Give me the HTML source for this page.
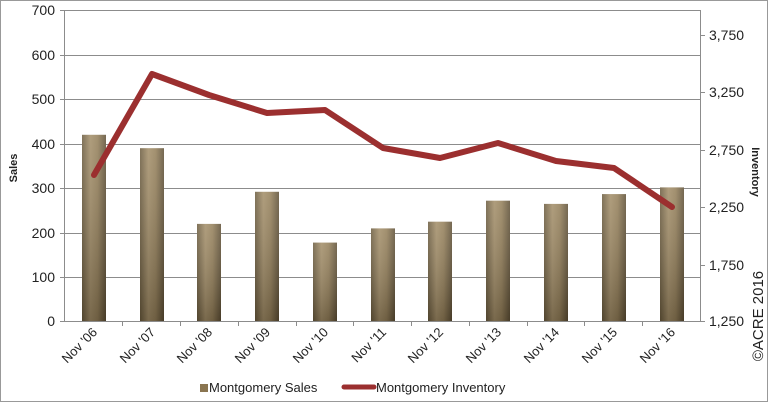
<!DOCTYPE html>
<html><head><meta charset="utf-8"><style>
html,body{margin:0;padding:0;background:#fff}
svg{display:block}
text{font-family:"Liberation Sans",sans-serif;fill:#222}
</style></head><body>
<svg width="768" height="402" viewBox="0 0 768 402" xmlns="http://www.w3.org/2000/svg">
<defs>
<linearGradient id="bh" x1="0" x2="1" y1="0" y2="0">
<stop offset="0" stop-color="#6a5a3d"/><stop offset="0.35" stop-color="#a18c66"/><stop offset="0.65" stop-color="#927d57"/><stop offset="1" stop-color="#5d4e34"/>
</linearGradient>
<linearGradient id="bv" x1="0" x2="0" y1="0" y2="1">
<stop offset="0" stop-color="#fff" stop-opacity="0.15"/><stop offset="1" stop-color="#000" stop-opacity="0.25"/>
</linearGradient>
</defs>
<rect x="0.5" y="0.5" width="767" height="401" fill="#fff" stroke="#999"/>
<g stroke="#8c8c8c" stroke-width="1">
<line x1="64" y1="10.5" x2="701" y2="10.5"/>
<line x1="64" y1="55.5" x2="701" y2="55.5"/>
<line x1="64" y1="99.5" x2="701" y2="99.5"/>
<line x1="64" y1="144.5" x2="701" y2="144.5"/>
<line x1="64" y1="188.5" x2="701" y2="188.5"/>
<line x1="64" y1="233.5" x2="701" y2="233.5"/>
<line x1="64" y1="277.5" x2="701" y2="277.5"/>
<line x1="64.5" y1="10" x2="64.5" y2="322"/>
<line x1="700.5" y1="10" x2="700.5" y2="322"/>
<line x1="60" y1="321.5" x2="701" y2="321.5"/>
<line x1="60" y1="10.5" x2="64" y2="10.5"/><line x1="60" y1="55.5" x2="64" y2="55.5"/><line x1="60" y1="99.5" x2="64" y2="99.5"/><line x1="60" y1="144.5" x2="64" y2="144.5"/><line x1="60" y1="188.5" x2="64" y2="188.5"/><line x1="60" y1="233.5" x2="64" y2="233.5"/><line x1="60" y1="277.5" x2="64" y2="277.5"/>
<line x1="700" y1="35.5" x2="705" y2="35.5"/><line x1="700" y1="92.5" x2="705" y2="92.5"/><line x1="700" y1="150.5" x2="705" y2="150.5"/><line x1="700" y1="207.5" x2="705" y2="207.5"/><line x1="700" y1="265.5" x2="705" y2="265.5"/><line x1="700" y1="321.5" x2="705" y2="321.5"/>
<line x1="122.5" y1="321" x2="122.5" y2="326"/><line x1="180.5" y1="321" x2="180.5" y2="326"/><line x1="238.5" y1="321" x2="238.5" y2="326"/><line x1="296.5" y1="321" x2="296.5" y2="326"/><line x1="353.5" y1="321" x2="353.5" y2="326"/><line x1="411.5" y1="321" x2="411.5" y2="326"/><line x1="469.5" y1="321" x2="469.5" y2="326"/><line x1="527.5" y1="321" x2="527.5" y2="326"/><line x1="584.5" y1="321" x2="584.5" y2="326"/><line x1="642.5" y1="321" x2="642.5" y2="326"/>
</g>
<g>
<rect x="82" y="134.8" width="24" height="186.2" fill="url(#bh)"/>
<rect x="140" y="148.2" width="24" height="172.8" fill="url(#bh)"/>
<rect x="197" y="223.9" width="24" height="97.1" fill="url(#bh)"/>
<rect x="255" y="191.8" width="24" height="129.2" fill="url(#bh)"/>
<rect x="313" y="242.6" width="24" height="78.4" fill="url(#bh)"/>
<rect x="371" y="228.4" width="24" height="92.6" fill="url(#bh)"/>
<rect x="428" y="221.7" width="24" height="99.3" fill="url(#bh)"/>
<rect x="486" y="200.7" width="24" height="120.3" fill="url(#bh)"/>
<rect x="544" y="203.9" width="24" height="117.1" fill="url(#bh)"/>
<rect x="602" y="194.1" width="24" height="126.9" fill="url(#bh)"/>
<rect x="660" y="187.4" width="24" height="133.6" fill="url(#bh)"/>
</g>
<g fill="url(#bv)">
<rect x="82" y="134.8" width="24" height="186.2"/><rect x="140" y="148.2" width="24" height="172.8"/><rect x="197" y="223.9" width="24" height="97.1"/><rect x="255" y="191.8" width="24" height="129.2"/><rect x="313" y="242.6" width="24" height="78.4"/><rect x="371" y="228.4" width="24" height="92.6"/><rect x="428" y="221.7" width="24" height="99.3"/><rect x="486" y="200.7" width="24" height="120.3"/><rect x="544" y="203.9" width="24" height="117.1"/><rect x="602" y="194.1" width="24" height="126.9"/><rect x="660" y="187.4" width="24" height="133.6"/>
</g>
<polyline points="94,175 152,74 209,95 267,113 325,110 383,148 440,158 498,143 556,161 614,168 672,207" fill="none" stroke="#9b2f2f" stroke-width="6" stroke-linejoin="round" stroke-linecap="round"/>
<g font-size="14" text-anchor="end">
<text x="55" y="15">700</text><text x="55" y="60">600</text><text x="55" y="104">500</text><text x="55" y="149">400</text><text x="55" y="193">300</text><text x="55" y="238">200</text><text x="55" y="282">100</text><text x="55" y="326">0</text>
</g>
<g font-size="14">
<text x="709" y="40">3,750</text><text x="709" y="97">3,250</text><text x="709" y="155">2,750</text><text x="709" y="212">2,250</text><text x="709" y="270">1,750</text><text x="709" y="326">1,250</text>
</g>
<text transform="translate(17,168) rotate(-90)" font-size="11" font-weight="bold" text-anchor="middle">Sales</text>
<text transform="translate(752,172) rotate(90)" font-size="11" font-weight="bold" text-anchor="middle">Inventory</text>
<text transform="translate(763,316) rotate(-90)" font-size="15" text-anchor="middle">©ACRE 2016</text>
<g font-size="13" text-anchor="end">
<text transform="translate(98,333) rotate(-45)">Nov '06</text>
<text transform="translate(156,333) rotate(-45)">Nov '07</text>
<text transform="translate(213,333) rotate(-45)">Nov '08</text>
<text transform="translate(271,333) rotate(-45)">Nov '09</text>
<text transform="translate(329,333) rotate(-45)">Nov '10</text>
<text transform="translate(387,333) rotate(-45)">Nov '11</text>
<text transform="translate(444,333) rotate(-45)">Nov '12</text>
<text transform="translate(502,333) rotate(-45)">Nov '13</text>
<text transform="translate(560,333) rotate(-45)">Nov '14</text>
<text transform="translate(618,333) rotate(-45)">Nov '15</text>
<text transform="translate(676,333) rotate(-45)">Nov '16</text>
</g>
<rect x="200" y="384" width="8" height="8" fill="#8a7550"/>
<text x="209" y="392" font-size="13">Montgomery Sales</text>
<line x1="344" y1="387" x2="374" y2="387" stroke="#9b2f2f" stroke-width="5" stroke-linecap="round"/>
<text x="376" y="392" font-size="13">Montgomery Inventory</text>
</svg>
</body></html>
